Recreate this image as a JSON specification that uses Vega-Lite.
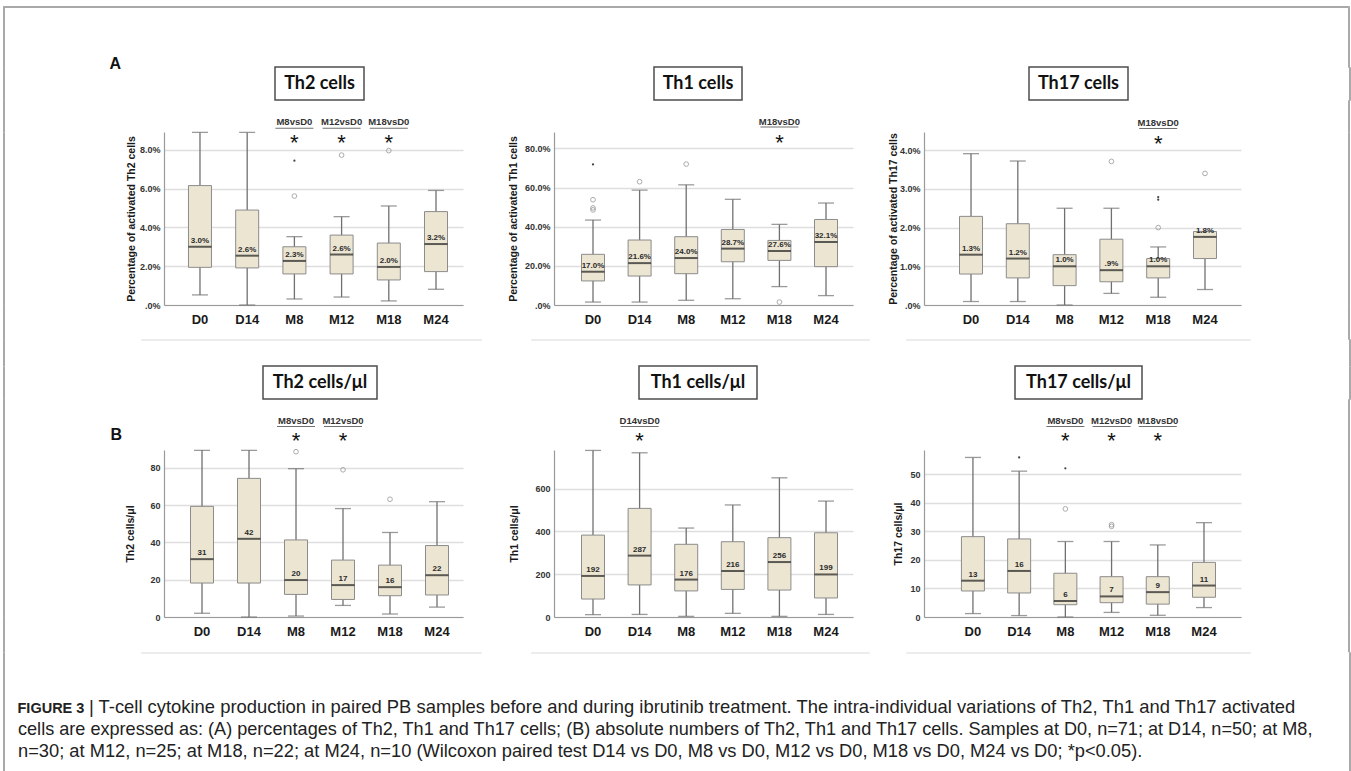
{
"$schema": "https://vega.github.io/schema/vega-lite/v6.json",
"background": "white",
"padding": {"left": 2, "top": 5, "right": 2, "bottom": 0},
"config": {
  "view": {"stroke": null},
  "font": "Liberation Sans",
  "axisX": {"labelAngle": 0, "labelFontSize": 13, "labelFontWeight": "bold", "labelColor": "#1a1a1a", "labelPadding": 8, "ticks": false, "domainColor": "#9a9a9a", "domainWidth": 1.2, "grid": false},
  "axisY": {"titleFontSize": 10.5, "titleFontWeight": "bold", "titleColor": "#1a1a1a", "labelFontSize": 9, "labelFontWeight": "bold", "labelColor": "#333333", "labelPadding": 4, "ticks": false, "grid": true, "gridColor": "#dedede", "gridWidth": 1.5, "domainColor": "#9a9a9a", "domainWidth": 1.2, "labelOverlap": false}
},
"datasets": {
  "titles": [
    {"p": "A1", "t": "Th2 cells"}, {"p": "A2", "t": "Th1 cells"}, {"p": "A3", "t": "Th17 cells"},
    {"p": "B1", "t": "Th2 cells/μl"}, {"p": "B2", "t": "Th1 cells/μl"}, {"p": "B3", "t": "Th17 cells/μl"}
  ],
  "boxes": [
    {"p": "A1", "c": "D0", "lo": 0.52, "q1": 1.94, "md": 3.0, "q3": 6.15, "hi": 8.89, "lab": "3.0%"},
    {"p": "A1", "c": "D14", "lo": 0.0, "q1": 1.91, "md": 2.54, "q3": 4.89, "hi": 8.89, "lab": "2.6%"},
    {"p": "A1", "c": "M8", "lo": 0.31, "q1": 1.6, "md": 2.27, "q3": 3.0, "hi": 3.52, "lab": "2.3%"},
    {"p": "A1", "c": "M12", "lo": 0.41, "q1": 1.6, "md": 2.6, "q3": 3.6, "hi": 4.55, "lab": "2.6%"},
    {"p": "A1", "c": "M18", "lo": 0.21, "q1": 1.29, "md": 1.96, "q3": 3.19, "hi": 5.1, "lab": "2.0%"},
    {"p": "A1", "c": "M24", "lo": 0.81, "q1": 1.72, "md": 3.14, "q3": 4.81, "hi": 5.9, "lab": "3.2%"},
    {"p": "A2", "c": "D0", "lo": 1.5, "q1": 12.3, "md": 17.0, "q3": 25.9, "hi": 43.4, "lab": "17.0%"},
    {"p": "A2", "c": "D14", "lo": 1.5, "q1": 14.8, "md": 21.4, "q3": 33.2, "hi": 58.7, "lab": "21.6%"},
    {"p": "A2", "c": "M8", "lo": 2.4, "q1": 16.0, "md": 24.0, "q3": 34.9, "hi": 61.4, "lab": "24.0%"},
    {"p": "A2", "c": "M12", "lo": 3.2, "q1": 22.1, "md": 28.8, "q3": 38.6, "hi": 54.0, "lab": "28.7%"},
    {"p": "A2", "c": "M18", "lo": 9.4, "q1": 22.8, "md": 27.6, "q3": 33.0, "hi": 41.2, "lab": "27.6%"},
    {"p": "A2", "c": "M24", "lo": 4.8, "q1": 19.6, "md": 32.2, "q3": 43.7, "hi": 52.1, "lab": "32.1%"},
    {"p": "A3", "c": "D0", "lo": 0.09, "q1": 0.8, "md": 1.3, "q3": 2.29, "hi": 3.91, "lab": "1.3%"},
    {"p": "A3", "c": "D14", "lo": 0.09, "q1": 0.7, "md": 1.2, "q3": 2.1, "hi": 3.72, "lab": "1.2%"},
    {"p": "A3", "c": "M8", "lo": 0.0, "q1": 0.5, "md": 1.0, "q3": 1.3, "hi": 2.5, "lab": "1.0%"},
    {"p": "A3", "c": "M12", "lo": 0.3, "q1": 0.6, "md": 0.9, "q3": 1.7, "hi": 2.5, "lab": ".9%"},
    {"p": "A3", "c": "M18", "lo": 0.2, "q1": 0.7, "md": 1.0, "q3": 1.2, "hi": 1.5, "lab": "1.0%"},
    {"p": "A3", "c": "M24", "lo": 0.4, "q1": 1.2, "md": 1.76, "q3": 1.9, "hi": 1.9, "lab": "1.8%"},
    {"p": "B1", "c": "D0", "lo": 2.0, "q1": 18.2, "md": 31.0, "q3": 59.3, "hi": 89.3, "lab": "31"},
    {"p": "B1", "c": "D14", "lo": 0.0, "q1": 18.2, "md": 41.9, "q3": 74.3, "hi": 89.3, "lab": "42"},
    {"p": "B1", "c": "M8", "lo": 0.5, "q1": 12.1, "md": 19.8, "q3": 41.3, "hi": 79.5, "lab": "20"},
    {"p": "B1", "c": "M12", "lo": 6.2, "q1": 9.4, "md": 17.1, "q3": 30.5, "hi": 58.1, "lab": "17"},
    {"p": "B1", "c": "M18", "lo": 1.6, "q1": 11.4, "md": 16.0, "q3": 27.8, "hi": 45.3, "lab": "16"},
    {"p": "B1", "c": "M24", "lo": 5.3, "q1": 11.8, "md": 22.4, "q3": 38.3, "hi": 61.8, "lab": "22"},
    {"p": "B2", "c": "D0", "lo": 11, "q1": 84, "md": 192, "q3": 383, "hi": 779, "lab": "192"},
    {"p": "B2", "c": "D14", "lo": 12, "q1": 150, "md": 287, "q3": 508, "hi": 768, "lab": "287"},
    {"p": "B2", "c": "M8", "lo": 3, "q1": 122, "md": 175, "q3": 340, "hi": 416, "lab": "176"},
    {"p": "B2", "c": "M12", "lo": 17, "q1": 129, "md": 215, "q3": 352, "hi": 524, "lab": "216"},
    {"p": "B2", "c": "M18", "lo": 3, "q1": 126, "md": 257, "q3": 371, "hi": 651, "lab": "256"},
    {"p": "B2", "c": "M24", "lo": 12, "q1": 89, "md": 199, "q3": 394, "hi": 542, "lab": "199"},
    {"p": "B3", "c": "D0", "lo": 1.2, "q1": 9.1, "md": 12.7, "q3": 28.1, "hi": 55.8, "lab": "13"},
    {"p": "B3", "c": "D14", "lo": 0.5, "q1": 8.4, "md": 16.1, "q3": 27.3, "hi": 51.0, "lab": "16"},
    {"p": "B3", "c": "M8", "lo": 0.0, "q1": 4.3, "md": 5.6, "q3": 15.3, "hi": 26.4, "lab": "6"},
    {"p": "B3", "c": "M12", "lo": 1.6, "q1": 5.0, "md": 7.2, "q3": 14.1, "hi": 26.4, "lab": "7"},
    {"p": "B3", "c": "M18", "lo": 0.6, "q1": 4.5, "md": 8.7, "q3": 14.1, "hi": 25.2, "lab": "9"},
    {"p": "B3", "c": "M24", "lo": 3.3, "q1": 6.9, "md": 11.0, "q3": 19.1, "hi": 33.0, "lab": "11"}
  ],
  "outl": [
    {"p": "A1", "c": "M8", "v": 5.61, "k": "o"}, {"p": "A1", "c": "M8", "v": 7.43, "k": "x"},
    {"p": "A1", "c": "M12", "v": 7.72, "k": "o"}, {"p": "A1", "c": "M18", "v": 7.95, "k": "o"},
    {"p": "A2", "c": "D0", "v": 48.6, "k": "o"}, {"p": "A2", "c": "D0", "v": 49.6, "k": "o"},
    {"p": "A2", "c": "D0", "v": 53.8, "k": "o"}, {"p": "A2", "c": "D0", "v": 71.8, "k": "x"},
    {"p": "A2", "c": "D14", "v": 63.0, "k": "o"}, {"p": "A2", "c": "M8", "v": 72.0, "k": "o"},
    {"p": "A2", "c": "M18", "v": 1.5, "k": "o"},
    {"p": "A3", "c": "M12", "v": 3.71, "k": "o"}, {"p": "A3", "c": "M18", "v": 2.0, "k": "o"},
    {"p": "A3", "c": "M18", "v": 2.72, "k": "x"}, {"p": "A3", "c": "M18", "v": 2.79, "k": "x"},
    {"p": "A3", "c": "M24", "v": 3.4, "k": "o"},
    {"p": "B1", "c": "M8", "v": 88.6, "k": "o"}, {"p": "B1", "c": "M12", "v": 78.9, "k": "o"},
    {"p": "B1", "c": "M18", "v": 63.1, "k": "o"},
    {"p": "B3", "c": "D14", "v": 55.8, "k": "x"}, {"p": "B3", "c": "M8", "v": 37.8, "k": "o"},
    {"p": "B3", "c": "M8", "v": 52.0, "k": "x"}, {"p": "B3", "c": "M12", "v": 31.7, "k": "o"},
    {"p": "B3", "c": "M12", "v": 32.3, "k": "o"}
  ],
  "ann": [
    {"p": "A1", "c": "M8", "t": "M8vsD0"}, {"p": "A1", "c": "M12", "t": "M12vsD0"}, {"p": "A1", "c": "M18", "t": "M18vsD0"},
    {"p": "A2", "c": "M18", "t": "M18vsD0"},
    {"p": "A3", "c": "M18", "t": "M18vsD0"},
    {"p": "B1", "c": "M8", "t": "M8vsD0"}, {"p": "B1", "c": "M12", "t": "M12vsD0"},
    {"p": "B2", "c": "D14", "t": "D14vsD0"},
    {"p": "B3", "c": "M8", "t": "M8vsD0"}, {"p": "B3", "c": "M12", "t": "M12vsD0"}, {"p": "B3", "c": "M18", "t": "M18vsD0"}
  ]
},
"bounds": "flush",
"spacing": 0,
"vconcat": [
  {"bounds": "flush", "spacing": 0, "hconcat": [
    {"width": 1345, "height": 1, "view": {"stroke": "#a9a9a9", "strokeWidth": 1}, "data": {"values": [{}]}, "mark": {"type": "text", "text": "", "fontSize": 0}},
    {"width": 1, "height": 1, "view": {"stroke": "#a9a9a9", "strokeWidth": 1}, "data": {"values": [{}]}, "mark": {"type": "text", "text": "", "fontSize": 0}}
  ]},
  {"width": 1, "height": 1, "view": {"stroke": "#a9a9a9", "strokeWidth": 1}, "data": {"values": [{}]}, "mark": {"type": "text", "text": "", "fontSize": 0}},

  {"bounds": "flush", "spacing": 0, "hconcat": [
    {"width": 1345, "height": 1, "data": {"values": [{}]}, "mark": {"type": "text", "text": "", "fontSize": 0}},
    {"width": 1, "height": 60, "view": {"stroke": "#a9a9a9", "strokeWidth": 1}, "data": {"values": [{}]}, "mark": {"type": "text", "text": "", "fontSize": 0}}
  ]},
  {"width": 1, "height": 60, "view": {"stroke": "#a9a9a9", "strokeWidth": 1}, "data": {"values": [{}]}, "mark": {"type": "text", "text": "", "fontSize": 0}},

  {"bounds": "flush", "spacing": 0, "hconcat": [
    {"width": 271.5, "height": 1, "data": {"values": [{}]}, "mark": {"type": "text", "text": "", "fontSize": 0}},
    {"width": 89, "height": 33, "view": {"stroke": "#4d4d4d", "strokeWidth": 1.5}, "data": {"name": "titles"}, "transform": [{"filter": "datum.p==='A1'"}], "mark": {"type": "text", "font": "Lato", "fontSize": 18, "fontWeight": "bold", "color": "#111111", "baseline": "middle"}, "encoding": {"text": {"field": "t"}}},
    {"width": 290, "height": 1, "data": {"values": [{}]}, "mark": {"type": "text", "text": "", "fontSize": 0}},
    {"width": 88, "height": 33, "view": {"stroke": "#4d4d4d", "strokeWidth": 1.5}, "data": {"name": "titles"}, "transform": [{"filter": "datum.p==='A2'"}], "mark": {"type": "text", "font": "Lato", "fontSize": 18, "fontWeight": "bold", "color": "#111111", "baseline": "middle"}, "encoding": {"text": {"field": "t"}}},
    {"width": 287, "height": 1, "data": {"values": [{}]}, "mark": {"type": "text", "text": "", "fontSize": 0}},
    {"width": 99, "height": 33, "view": {"stroke": "#4d4d4d", "strokeWidth": 1.5}, "data": {"name": "titles"}, "transform": [{"filter": "datum.p==='A3'"}], "mark": {"type": "text", "font": "Lato", "fontSize": 18, "fontWeight": "bold", "color": "#111111", "baseline": "middle"}, "encoding": {"text": {"field": "t"}}},
    {"width": 220.5, "height": 1, "data": {"values": [{}]}, "mark": {"type": "text", "text": "", "fontSize": 0}},
    {"width": 1, "height": 33, "view": {"stroke": "#a9a9a9", "strokeWidth": 1}, "data": {"values": [{}]}, "mark": {"type": "text", "text": "", "fontSize": 0}}
  ]},
  {"width": 1, "height": 33, "view": {"stroke": "#a9a9a9", "strokeWidth": 1}, "data": {"values": [{}]}, "mark": {"type": "text", "text": "", "fontSize": 0},
   "title": {"text": "A", "orient": "bottom", "anchor": "start", "frame": "group", "fontSize": 16, "fontWeight": "bold", "color": "#111111", "baseline": "alphabetic", "offset": 0, "dx": 106.5, "dy": -31.5}},

  {"bounds": "flush", "spacing": 0, "hconcat": [
    {"width": 1345, "height": 1, "data": {"values": [{}]}, "mark": {"type": "text", "text": "", "fontSize": 0}},
    {"width": 1, "height": 31.5, "view": {"stroke": "#a9a9a9", "strokeWidth": 1}, "data": {"values": [{}]}, "mark": {"type": "text", "text": "", "fontSize": 0}}
  ]},
  {"width": 1, "height": 31.5, "view": {"stroke": "#a9a9a9", "strokeWidth": 1}, "data": {"values": [{}]}, "mark": {"type": "text", "text": "", "fontSize": 0}},

  {"bounds": "flush", "spacing": 0, "hconcat": [
    {"width": 161, "height": 1, "data": {"values": [{}]}, "mark": {"type": "text", "text": "", "fontSize": 0}},
    {"width": 299, "height": 173,
     "encoding": {"x": {"field": "c", "type": "nominal", "sort": ["D0", "D14", "M8", "M12", "M18", "M24"], "scale": {"type": "band", "paddingInner": 0, "paddingOuter": 0.167, "align": 0.785}, "axis": {"title": null}}},
     "layer": [
      {"data": {"name": "boxes"}, "transform": [{"filter": "datum.p==='A1'"}], "mark": {"type": "rule", "color": "#707070", "strokeWidth": 1.3}, "encoding": {"y": {"field": "lo", "type": "quantitative", "scale": {"domain": [0, 8.91], "nice": false, "zero": false}, "axis": {"title": "Percentage of activated Th2 cells", "values": [0, 2, 4, 6, 8], "labelExpr": "datum.value===0?'.0%':format(datum.value,'.1f')+'%'", "titlePadding": 3}}, "y2": {"field": "hi"}}},
      {"data": {"name": "boxes"}, "transform": [{"filter": "datum.p==='A1'"}], "mark": {"type": "tick", "size": 16, "thickness": 1.3, "color": "#707070"}, "encoding": {"y": {"field": "lo", "type": "quantitative", "scale": {"domain": [0, 8.91], "nice": false, "zero": false}, "axis": {"title": "Percentage of activated Th2 cells", "values": [0, 2, 4, 6, 8], "labelExpr": "datum.value===0?'.0%':format(datum.value,'.1f')+'%'", "titlePadding": 3}}}},
      {"data": {"name": "boxes"}, "transform": [{"filter": "datum.p==='A1'"}], "mark": {"type": "tick", "size": 16, "thickness": 1.3, "color": "#707070"}, "encoding": {"y": {"field": "hi", "type": "quantitative", "scale": {"domain": [0, 8.91], "nice": false, "zero": false}, "axis": {"title": "Percentage of activated Th2 cells", "values": [0, 2, 4, 6, 8], "labelExpr": "datum.value===0?'.0%':format(datum.value,'.1f')+'%'", "titlePadding": 3}}}},
      {"data": {"name": "boxes"}, "transform": [{"filter": "datum.p==='A1'"}], "mark": {"type": "bar", "width": 23, "fill": "#ece5d2", "stroke": "#8c8c8c", "strokeWidth": 1}, "encoding": {"y": {"field": "q1", "type": "quantitative", "scale": {"domain": [0, 8.91], "nice": false, "zero": false}, "axis": {"title": "Percentage of activated Th2 cells", "values": [0, 2, 4, 6, 8], "labelExpr": "datum.value===0?'.0%':format(datum.value,'.1f')+'%'", "titlePadding": 3}}, "y2": {"field": "q3"}}},
      {"data": {"name": "boxes"}, "transform": [{"filter": "datum.p==='A1'"}], "mark": {"type": "tick", "size": 23, "thickness": 2, "color": "#1e1e1e"}, "encoding": {"y": {"field": "md", "type": "quantitative", "scale": {"domain": [0, 8.91], "nice": false, "zero": false}, "axis": {"title": "Percentage of activated Th2 cells", "values": [0, 2, 4, 6, 8], "labelExpr": "datum.value===0?'.0%':format(datum.value,'.1f')+'%'", "titlePadding": 3}}}},
      {"data": {"name": "boxes"}, "transform": [{"filter": "datum.p==='A1'"}], "mark": {"type": "text", "dy": -6, "fontSize": 8, "fontWeight": "bold", "color": "#2a2a2a"}, "encoding": {"y": {"field": "md", "type": "quantitative", "scale": {"domain": [0, 8.91], "nice": false, "zero": false}, "axis": {"title": "Percentage of activated Th2 cells", "values": [0, 2, 4, 6, 8], "labelExpr": "datum.value===0?'.0%':format(datum.value,'.1f')+'%'", "titlePadding": 3}}, "text": {"field": "lab"}}},
      {"data": {"name": "outl"}, "transform": [{"filter": "datum.p==='A1' && datum.k==='o'"}], "mark": {"type": "point", "shape": "circle", "filled": false, "size": 22, "color": "#8a8a8a", "strokeWidth": 1}, "encoding": {"y": {"field": "v", "type": "quantitative", "scale": {"domain": [0, 8.91], "nice": false, "zero": false}, "axis": {"title": "Percentage of activated Th2 cells", "values": [0, 2, 4, 6, 8], "labelExpr": "datum.value===0?'.0%':format(datum.value,'.1f')+'%'", "titlePadding": 3}}}},
      {"data": {"name": "outl"}, "transform": [{"filter": "datum.p==='A1' && datum.k==='x'"}], "mark": {"type": "point", "shape": "circle", "filled": true, "size": 5, "color": "#444444", "opacity": 1}, "encoding": {"y": {"field": "v", "type": "quantitative", "scale": {"domain": [0, 8.91], "nice": false, "zero": false}, "axis": {"title": "Percentage of activated Th2 cells", "values": [0, 2, 4, 6, 8], "labelExpr": "datum.value===0?'.0%':format(datum.value,'.1f')+'%'", "titlePadding": 3}}}},
      {"data": {"name": "ann"}, "transform": [{"filter": "datum.p==='A1'"}], "mark": {"type": "text", "fontSize": 9.5, "fontWeight": "bold", "color": "#333333", "baseline": "middle"}, "encoding": {"y": {"datum": 9.4, "scale": {"domain": [0, 8.91], "nice": false, "zero": false}, "axis": {"title": "Percentage of activated Th2 cells", "values": [0, 2, 4, 6, 8], "labelExpr": "datum.value===0?'.0%':format(datum.value,'.1f')+'%'", "titlePadding": 3}}, "text": {"field": "t"}}},
      {"data": {"name": "ann"}, "transform": [{"filter": "datum.p==='A1'"}], "mark": {"type": "tick", "size": 38, "thickness": 1, "color": "#333333"}, "encoding": {"y": {"datum": 9.1, "scale": {"domain": [0, 8.91], "nice": false, "zero": false}, "axis": {"title": "Percentage of activated Th2 cells", "values": [0, 2, 4, 6, 8], "labelExpr": "datum.value===0?'.0%':format(datum.value,'.1f')+'%'", "titlePadding": 3}}}},
      {"data": {"name": "ann"}, "transform": [{"filter": "datum.p==='A1'"}], "mark": {"type": "text", "text": "*", "fontSize": 22, "color": "#111111", "baseline": "middle", "dy": 1}, "encoding": {"y": {"datum": 8.4, "scale": {"domain": [0, 8.91], "nice": false, "zero": false}, "axis": {"title": "Percentage of activated Th2 cells", "values": [0, 2, 4, 6, 8], "labelExpr": "datum.value===0?'.0%':format(datum.value,'.1f')+'%'", "titlePadding": 3}}}}
     ]},
    {"width": 91, "height": 1, "data": {"values": [{}]}, "mark": {"type": "text", "text": "", "fontSize": 0}},
    {"width": 299, "height": 173,
     "encoding": {"x": {"field": "c", "type": "nominal", "sort": ["D0", "D14", "M8", "M12", "M18", "M24"], "scale": {"type": "band", "paddingInner": 0, "paddingOuter": 0.208, "align": 0.81}, "axis": {"title": null}}},
     "layer": [
      {"data": {"name": "boxes"}, "transform": [{"filter": "datum.p==='A2'"}], "mark": {"type": "rule", "color": "#707070", "strokeWidth": 1.3}, "encoding": {"y": {"field": "lo", "type": "quantitative", "scale": {"domain": [0, 88.4], "nice": false, "zero": false}, "axis": {"title": "Percentage of activated Th1 cells", "values": [0, 20, 40, 60, 80], "labelExpr": "datum.value===0?'.0%':format(datum.value,'.1f')+'%'", "titlePadding": 6}}, "y2": {"field": "hi"}}},
      {"data": {"name": "boxes"}, "transform": [{"filter": "datum.p==='A2'"}], "mark": {"type": "tick", "size": 16, "thickness": 1.3, "color": "#707070"}, "encoding": {"y": {"field": "lo", "type": "quantitative", "scale": {"domain": [0, 88.4], "nice": false, "zero": false}, "axis": {"title": "Percentage of activated Th1 cells", "values": [0, 20, 40, 60, 80], "labelExpr": "datum.value===0?'.0%':format(datum.value,'.1f')+'%'", "titlePadding": 6}}}},
      {"data": {"name": "boxes"}, "transform": [{"filter": "datum.p==='A2'"}], "mark": {"type": "tick", "size": 16, "thickness": 1.3, "color": "#707070"}, "encoding": {"y": {"field": "hi", "type": "quantitative", "scale": {"domain": [0, 88.4], "nice": false, "zero": false}, "axis": {"title": "Percentage of activated Th1 cells", "values": [0, 20, 40, 60, 80], "labelExpr": "datum.value===0?'.0%':format(datum.value,'.1f')+'%'", "titlePadding": 6}}}},
      {"data": {"name": "boxes"}, "transform": [{"filter": "datum.p==='A2'"}], "mark": {"type": "bar", "width": 23, "fill": "#ece5d2", "stroke": "#8c8c8c", "strokeWidth": 1}, "encoding": {"y": {"field": "q1", "type": "quantitative", "scale": {"domain": [0, 88.4], "nice": false, "zero": false}, "axis": {"title": "Percentage of activated Th1 cells", "values": [0, 20, 40, 60, 80], "labelExpr": "datum.value===0?'.0%':format(datum.value,'.1f')+'%'", "titlePadding": 6}}, "y2": {"field": "q3"}}},
      {"data": {"name": "boxes"}, "transform": [{"filter": "datum.p==='A2'"}], "mark": {"type": "tick", "size": 23, "thickness": 2, "color": "#1e1e1e"}, "encoding": {"y": {"field": "md", "type": "quantitative", "scale": {"domain": [0, 88.4], "nice": false, "zero": false}, "axis": {"title": "Percentage of activated Th1 cells", "values": [0, 20, 40, 60, 80], "labelExpr": "datum.value===0?'.0%':format(datum.value,'.1f')+'%'", "titlePadding": 6}}}},
      {"data": {"name": "boxes"}, "transform": [{"filter": "datum.p==='A2'"}], "mark": {"type": "text", "dy": -6, "fontSize": 8, "fontWeight": "bold", "color": "#2a2a2a"}, "encoding": {"y": {"field": "md", "type": "quantitative", "scale": {"domain": [0, 88.4], "nice": false, "zero": false}, "axis": {"title": "Percentage of activated Th1 cells", "values": [0, 20, 40, 60, 80], "labelExpr": "datum.value===0?'.0%':format(datum.value,'.1f')+'%'", "titlePadding": 6}}, "text": {"field": "lab"}}},
      {"data": {"name": "outl"}, "transform": [{"filter": "datum.p==='A2' && datum.k==='o'"}], "mark": {"type": "point", "shape": "circle", "filled": false, "size": 22, "color": "#8a8a8a", "strokeWidth": 1}, "encoding": {"y": {"field": "v", "type": "quantitative", "scale": {"domain": [0, 88.4], "nice": false, "zero": false}, "axis": {"title": "Percentage of activated Th1 cells", "values": [0, 20, 40, 60, 80], "labelExpr": "datum.value===0?'.0%':format(datum.value,'.1f')+'%'", "titlePadding": 6}}}},
      {"data": {"name": "outl"}, "transform": [{"filter": "datum.p==='A2' && datum.k==='x'"}], "mark": {"type": "point", "shape": "circle", "filled": true, "size": 5, "color": "#444444", "opacity": 1}, "encoding": {"y": {"field": "v", "type": "quantitative", "scale": {"domain": [0, 88.4], "nice": false, "zero": false}, "axis": {"title": "Percentage of activated Th1 cells", "values": [0, 20, 40, 60, 80], "labelExpr": "datum.value===0?'.0%':format(datum.value,'.1f')+'%'", "titlePadding": 6}}}},
      {"data": {"name": "ann"}, "transform": [{"filter": "datum.p==='A2'"}], "mark": {"type": "text", "fontSize": 9.5, "fontWeight": "bold", "color": "#333333", "baseline": "middle"}, "encoding": {"y": {"datum": 93.7, "scale": {"domain": [0, 88.4], "nice": false, "zero": false}, "axis": {"title": "Percentage of activated Th1 cells", "values": [0, 20, 40, 60, 80], "labelExpr": "datum.value===0?'.0%':format(datum.value,'.1f')+'%'", "titlePadding": 6}}, "text": {"field": "t"}}},
      {"data": {"name": "ann"}, "transform": [{"filter": "datum.p==='A2'"}], "mark": {"type": "tick", "size": 38, "thickness": 1, "color": "#333333"}, "encoding": {"y": {"datum": 90.9, "scale": {"domain": [0, 88.4], "nice": false, "zero": false}, "axis": {"title": "Percentage of activated Th1 cells", "values": [0, 20, 40, 60, 80], "labelExpr": "datum.value===0?'.0%':format(datum.value,'.1f')+'%'", "titlePadding": 6}}}},
      {"data": {"name": "ann"}, "transform": [{"filter": "datum.p==='A2'"}], "mark": {"type": "text", "text": "*", "fontSize": 22, "color": "#111111", "baseline": "middle", "dy": 1}, "encoding": {"y": {"datum": 83.4, "scale": {"domain": [0, 88.4], "nice": false, "zero": false}, "axis": {"title": "Percentage of activated Th1 cells", "values": [0, 20, 40, 60, 80], "labelExpr": "datum.value===0?'.0%':format(datum.value,'.1f')+'%'", "titlePadding": 6}}}}
     ]},
    {"width": 71, "height": 1, "data": {"values": [{}]}, "mark": {"type": "text", "text": "", "fontSize": 0}},
    {"width": 317, "height": 173,
     "encoding": {"x": {"field": "c", "type": "nominal", "sort": ["D0", "D14", "M8", "M12", "M18", "M24"], "scale": {"type": "band", "paddingInner": 0, "paddingOuter": 0.387, "align": 0.652}, "axis": {"title": null}}},
     "layer": [
      {"data": {"name": "boxes"}, "transform": [{"filter": "datum.p==='A3'"}], "mark": {"type": "rule", "color": "#707070", "strokeWidth": 1.3}, "encoding": {"y": {"field": "lo", "type": "quantitative", "scale": {"domain": [0, 4.47], "nice": false, "zero": false}, "axis": {"title": "Percentage of activated Th17 cells", "values": [0, 1, 2, 3, 4], "labelExpr": "datum.value===0?'.0%':format(datum.value,'.1f')+'%'", "titlePadding": 1}}, "y2": {"field": "hi"}}},
      {"data": {"name": "boxes"}, "transform": [{"filter": "datum.p==='A3'"}], "mark": {"type": "tick", "size": 16, "thickness": 1.3, "color": "#707070"}, "encoding": {"y": {"field": "lo", "type": "quantitative", "scale": {"domain": [0, 4.47], "nice": false, "zero": false}, "axis": {"title": "Percentage of activated Th17 cells", "values": [0, 1, 2, 3, 4], "labelExpr": "datum.value===0?'.0%':format(datum.value,'.1f')+'%'", "titlePadding": 1}}}},
      {"data": {"name": "boxes"}, "transform": [{"filter": "datum.p==='A3'"}], "mark": {"type": "tick", "size": 16, "thickness": 1.3, "color": "#707070"}, "encoding": {"y": {"field": "hi", "type": "quantitative", "scale": {"domain": [0, 4.47], "nice": false, "zero": false}, "axis": {"title": "Percentage of activated Th17 cells", "values": [0, 1, 2, 3, 4], "labelExpr": "datum.value===0?'.0%':format(datum.value,'.1f')+'%'", "titlePadding": 1}}}},
      {"data": {"name": "boxes"}, "transform": [{"filter": "datum.p==='A3'"}], "mark": {"type": "bar", "width": 23, "fill": "#ece5d2", "stroke": "#8c8c8c", "strokeWidth": 1}, "encoding": {"y": {"field": "q1", "type": "quantitative", "scale": {"domain": [0, 4.47], "nice": false, "zero": false}, "axis": {"title": "Percentage of activated Th17 cells", "values": [0, 1, 2, 3, 4], "labelExpr": "datum.value===0?'.0%':format(datum.value,'.1f')+'%'", "titlePadding": 1}}, "y2": {"field": "q3"}}},
      {"data": {"name": "boxes"}, "transform": [{"filter": "datum.p==='A3'"}], "mark": {"type": "tick", "size": 23, "thickness": 2, "color": "#1e1e1e"}, "encoding": {"y": {"field": "md", "type": "quantitative", "scale": {"domain": [0, 4.47], "nice": false, "zero": false}, "axis": {"title": "Percentage of activated Th17 cells", "values": [0, 1, 2, 3, 4], "labelExpr": "datum.value===0?'.0%':format(datum.value,'.1f')+'%'", "titlePadding": 1}}}},
      {"data": {"name": "boxes"}, "transform": [{"filter": "datum.p==='A3'"}], "mark": {"type": "text", "dy": -6, "fontSize": 8, "fontWeight": "bold", "color": "#2a2a2a"}, "encoding": {"y": {"field": "md", "type": "quantitative", "scale": {"domain": [0, 4.47], "nice": false, "zero": false}, "axis": {"title": "Percentage of activated Th17 cells", "values": [0, 1, 2, 3, 4], "labelExpr": "datum.value===0?'.0%':format(datum.value,'.1f')+'%'", "titlePadding": 1}}, "text": {"field": "lab"}}},
      {"data": {"name": "outl"}, "transform": [{"filter": "datum.p==='A3' && datum.k==='o'"}], "mark": {"type": "point", "shape": "circle", "filled": false, "size": 22, "color": "#8a8a8a", "strokeWidth": 1}, "encoding": {"y": {"field": "v", "type": "quantitative", "scale": {"domain": [0, 4.47], "nice": false, "zero": false}, "axis": {"title": "Percentage of activated Th17 cells", "values": [0, 1, 2, 3, 4], "labelExpr": "datum.value===0?'.0%':format(datum.value,'.1f')+'%'", "titlePadding": 1}}}},
      {"data": {"name": "outl"}, "transform": [{"filter": "datum.p==='A3' && datum.k==='x'"}], "mark": {"type": "point", "shape": "circle", "filled": true, "size": 5, "color": "#444444", "opacity": 1}, "encoding": {"y": {"field": "v", "type": "quantitative", "scale": {"domain": [0, 4.47], "nice": false, "zero": false}, "axis": {"title": "Percentage of activated Th17 cells", "values": [0, 1, 2, 3, 4], "labelExpr": "datum.value===0?'.0%':format(datum.value,'.1f')+'%'", "titlePadding": 1}}}},
      {"data": {"name": "ann"}, "transform": [{"filter": "datum.p==='A3'"}], "mark": {"type": "text", "fontSize": 9.5, "fontWeight": "bold", "color": "#333333", "baseline": "middle"}, "encoding": {"y": {"datum": 4.7, "scale": {"domain": [0, 4.47], "nice": false, "zero": false}, "axis": {"title": "Percentage of activated Th17 cells", "values": [0, 1, 2, 3, 4], "labelExpr": "datum.value===0?'.0%':format(datum.value,'.1f')+'%'", "titlePadding": 1}}, "text": {"field": "t"}}},
      {"data": {"name": "ann"}, "transform": [{"filter": "datum.p==='A3'"}], "mark": {"type": "tick", "size": 38, "thickness": 1, "color": "#333333"}, "encoding": {"y": {"datum": 4.56, "scale": {"domain": [0, 4.47], "nice": false, "zero": false}, "axis": {"title": "Percentage of activated Th17 cells", "values": [0, 1, 2, 3, 4], "labelExpr": "datum.value===0?'.0%':format(datum.value,'.1f')+'%'", "titlePadding": 1}}}},
      {"data": {"name": "ann"}, "transform": [{"filter": "datum.p==='A3'"}], "mark": {"type": "text", "text": "*", "fontSize": 22, "color": "#111111", "baseline": "middle", "dy": 1}, "encoding": {"y": {"datum": 4.19, "scale": {"domain": [0, 4.47], "nice": false, "zero": false}, "axis": {"title": "Percentage of activated Th17 cells", "values": [0, 1, 2, 3, 4], "labelExpr": "datum.value===0?'.0%':format(datum.value,'.1f')+'%'", "titlePadding": 1}}}}
     ]},
    {"width": 107, "height": 1, "data": {"values": [{}]}, "mark": {"type": "text", "text": "", "fontSize": 0}},
    {"width": 1, "height": 173, "view": {"stroke": "#a9a9a9", "strokeWidth": 1}, "data": {"values": [{}]}, "mark": {"type": "text", "text": "", "fontSize": 0}}
  ]},
  {"width": 1, "height": 173, "view": {"stroke": "#a9a9a9", "strokeWidth": 1}, "data": {"values": [{}]}, "mark": {"type": "text", "text": "", "fontSize": 0}},

  {"bounds": "flush", "spacing": 0, "hconcat": [
    {"width": 1345, "height": 1, "data": {"values": [{}]}, "mark": {"type": "text", "text": "", "fontSize": 0}},
    {"width": 1, "height": 34, "view": {"stroke": "#a9a9a9", "strokeWidth": 1}, "data": {"values": [{}]}, "mark": {"type": "text", "text": "", "fontSize": 0}}
  ]},
  {"width": 1, "height": 34, "view": {"stroke": "#a9a9a9", "strokeWidth": 1}, "data": {"values": [{}]}, "mark": {"type": "text", "text": "", "fontSize": 0}},

  {"bounds": "flush", "spacing": 0, "hconcat": [
    {"width": 137.5, "height": 1, "data": {"values": [{}]}, "mark": {"type": "text", "text": "", "fontSize": 0}},
    {"width": 340, "height": 1, "view": {"stroke": "#ececec", "strokeWidth": 1}, "data": {"values": [{}]}, "mark": {"type": "text", "text": "", "fontSize": 0}},
    {"width": 50, "height": 1, "data": {"values": [{}]}, "mark": {"type": "text", "text": "", "fontSize": 0}},
    {"width": 338, "height": 1, "view": {"stroke": "#ececec", "strokeWidth": 1}, "data": {"values": [{}]}, "mark": {"type": "text", "text": "", "fontSize": 0}},
    {"width": 37, "height": 1, "data": {"values": [{}]}, "mark": {"type": "text", "text": "", "fontSize": 0}},
    {"width": 344, "height": 1, "view": {"stroke": "#ececec", "strokeWidth": 1}, "data": {"values": [{}]}, "mark": {"type": "text", "text": "", "fontSize": 0}},
    {"width": 98.5, "height": 1, "data": {"values": [{}]}, "mark": {"type": "text", "text": "", "fontSize": 0}},
    {"width": 1, "height": 26.5, "view": {"stroke": "#a9a9a9", "strokeWidth": 1}, "data": {"values": [{}]}, "mark": {"type": "text", "text": "", "fontSize": 0}}
  ]},
  {"width": 1, "height": 26.5, "view": {"stroke": "#a9a9a9", "strokeWidth": 1}, "data": {"values": [{}]}, "mark": {"type": "text", "text": "", "fontSize": 0}},

  {"bounds": "flush", "spacing": 0, "hconcat": [
    {"width": 259.5, "height": 1, "data": {"values": [{}]}, "mark": {"type": "text", "text": "", "fontSize": 0}},
    {"width": 114, "height": 33, "view": {"stroke": "#4d4d4d", "strokeWidth": 1.5}, "data": {"name": "titles"}, "transform": [{"filter": "datum.p==='B1'"}], "mark": {"type": "text", "font": "Lato", "fontSize": 18, "fontWeight": "bold", "color": "#111111", "baseline": "middle"}, "encoding": {"text": {"field": "t"}}},
    {"width": 262, "height": 1, "data": {"values": [{}]}, "mark": {"type": "text", "text": "", "fontSize": 0}},
    {"width": 118, "height": 33, "view": {"stroke": "#4d4d4d", "strokeWidth": 1.5}, "data": {"name": "titles"}, "transform": [{"filter": "datum.p==='B2'"}], "mark": {"type": "text", "font": "Lato", "fontSize": 18, "fontWeight": "bold", "color": "#111111", "baseline": "middle"}, "encoding": {"text": {"field": "t"}}},
    {"width": 258, "height": 1, "data": {"values": [{}]}, "mark": {"type": "text", "text": "", "fontSize": 0}},
    {"width": 127, "height": 33, "view": {"stroke": "#4d4d4d", "strokeWidth": 1.5}, "data": {"name": "titles"}, "transform": [{"filter": "datum.p==='B3'"}], "mark": {"type": "text", "font": "Lato", "fontSize": 18, "fontWeight": "bold", "color": "#111111", "baseline": "middle"}, "encoding": {"text": {"field": "t"}}},
    {"width": 206.5, "height": 1, "data": {"values": [{}]}, "mark": {"type": "text", "text": "", "fontSize": 0}},
    {"width": 1, "height": 33, "view": {"stroke": "#a9a9a9", "strokeWidth": 1}, "data": {"values": [{}]}, "mark": {"type": "text", "text": "", "fontSize": 0}}
  ]},
  {"width": 1, "height": 33, "view": {"stroke": "#a9a9a9", "strokeWidth": 1}, "data": {"values": [{}]}, "mark": {"type": "text", "text": "", "fontSize": 0}},

  {"bounds": "flush", "spacing": 0, "hconcat": [
    {"width": 1345, "height": 1, "data": {"values": [{}]}, "mark": {"type": "text", "text": "", "fontSize": 0}},
    {"width": 1, "height": 51, "view": {"stroke": "#a9a9a9", "strokeWidth": 1}, "data": {"values": [{}]}, "mark": {"type": "text", "text": "", "fontSize": 0}}
  ]},
  {"width": 1, "height": 51, "view": {"stroke": "#a9a9a9", "strokeWidth": 1}, "data": {"values": [{}]}, "mark": {"type": "text", "text": "", "fontSize": 0},
   "title": {"text": "B", "orient": "bottom", "anchor": "start", "frame": "group", "fontSize": 16, "fontWeight": "bold", "color": "#111111", "baseline": "alphabetic", "offset": 0, "dx": 107.5, "dy": -10.5}},

  {"bounds": "flush", "spacing": 0, "hconcat": [
    {"width": 161, "height": 1, "data": {"values": [{}]}, "mark": {"type": "text", "text": "", "fontSize": 0}},
    {"width": 299, "height": 167,
     "encoding": {"x": {"field": "c", "type": "nominal", "sort": ["D0", "D14", "M8", "M12", "M18", "M24"], "scale": {"type": "band", "paddingInner": 0, "paddingOuter": 0.181, "align": 0.853}, "axis": {"title": null}}},
     "layer": [
      {"data": {"name": "boxes"}, "transform": [{"filter": "datum.p==='B1'"}], "mark": {"type": "rule", "color": "#707070", "strokeWidth": 1.3}, "encoding": {"y": {"field": "lo", "type": "quantitative", "scale": {"domain": [0, 89.5], "nice": false, "zero": false}, "axis": {"title": "Th2 cells/μl", "values": [0, 20, 40, 60, 80], "titlePadding": 14}}, "y2": {"field": "hi"}}},
      {"data": {"name": "boxes"}, "transform": [{"filter": "datum.p==='B1'"}], "mark": {"type": "tick", "size": 16, "thickness": 1.3, "color": "#707070"}, "encoding": {"y": {"field": "lo", "type": "quantitative", "scale": {"domain": [0, 89.5], "nice": false, "zero": false}, "axis": {"title": "Th2 cells/μl", "values": [0, 20, 40, 60, 80], "titlePadding": 14}}}},
      {"data": {"name": "boxes"}, "transform": [{"filter": "datum.p==='B1'"}], "mark": {"type": "tick", "size": 16, "thickness": 1.3, "color": "#707070"}, "encoding": {"y": {"field": "hi", "type": "quantitative", "scale": {"domain": [0, 89.5], "nice": false, "zero": false}, "axis": {"title": "Th2 cells/μl", "values": [0, 20, 40, 60, 80], "titlePadding": 14}}}},
      {"data": {"name": "boxes"}, "transform": [{"filter": "datum.p==='B1'"}], "mark": {"type": "bar", "width": 23, "fill": "#ece5d2", "stroke": "#8c8c8c", "strokeWidth": 1}, "encoding": {"y": {"field": "q1", "type": "quantitative", "scale": {"domain": [0, 89.5], "nice": false, "zero": false}, "axis": {"title": "Th2 cells/μl", "values": [0, 20, 40, 60, 80], "titlePadding": 14}}, "y2": {"field": "q3"}}},
      {"data": {"name": "boxes"}, "transform": [{"filter": "datum.p==='B1'"}], "mark": {"type": "tick", "size": 23, "thickness": 2, "color": "#1e1e1e"}, "encoding": {"y": {"field": "md", "type": "quantitative", "scale": {"domain": [0, 89.5], "nice": false, "zero": false}, "axis": {"title": "Th2 cells/μl", "values": [0, 20, 40, 60, 80], "titlePadding": 14}}}},
      {"data": {"name": "boxes"}, "transform": [{"filter": "datum.p==='B1'"}], "mark": {"type": "text", "dy": -6, "fontSize": 8, "fontWeight": "bold", "color": "#2a2a2a"}, "encoding": {"y": {"field": "md", "type": "quantitative", "scale": {"domain": [0, 89.5], "nice": false, "zero": false}, "axis": {"title": "Th2 cells/μl", "values": [0, 20, 40, 60, 80], "titlePadding": 14}}, "text": {"field": "lab"}}},
      {"data": {"name": "outl"}, "transform": [{"filter": "datum.p==='B1' && datum.k==='o'"}], "mark": {"type": "point", "shape": "circle", "filled": false, "size": 22, "color": "#8a8a8a", "strokeWidth": 1}, "encoding": {"y": {"field": "v", "type": "quantitative", "scale": {"domain": [0, 89.5], "nice": false, "zero": false}, "axis": {"title": "Th2 cells/μl", "values": [0, 20, 40, 60, 80], "titlePadding": 14}}}},
      {"data": {"name": "ann"}, "transform": [{"filter": "datum.p==='B1'"}], "mark": {"type": "text", "fontSize": 9.5, "fontWeight": "bold", "color": "#333333", "baseline": "middle"}, "encoding": {"y": {"datum": 105.1, "scale": {"domain": [0, 89.5], "nice": false, "zero": false}, "axis": {"title": "Th2 cells/μl", "values": [0, 20, 40, 60, 80], "titlePadding": 14}}, "text": {"field": "t"}}},
      {"data": {"name": "ann"}, "transform": [{"filter": "datum.p==='B1'"}], "mark": {"type": "tick", "size": 38, "thickness": 1, "color": "#333333"}, "encoding": {"y": {"datum": 102.1, "scale": {"domain": [0, 89.5], "nice": false, "zero": false}, "axis": {"title": "Th2 cells/μl", "values": [0, 20, 40, 60, 80], "titlePadding": 14}}}},
      {"data": {"name": "ann"}, "transform": [{"filter": "datum.p==='B1'"}], "mark": {"type": "text", "text": "*", "fontSize": 22, "color": "#111111", "baseline": "middle", "dy": 0}, "encoding": {"y": {"datum": 94.3, "scale": {"domain": [0, 89.5], "nice": false, "zero": false}, "axis": {"title": "Th2 cells/μl", "values": [0, 20, 40, 60, 80], "titlePadding": 14}}}}
     ]},
    {"width": 91, "height": 1, "data": {"values": [{}]}, "mark": {"type": "text", "text": "", "fontSize": 0}},
    {"width": 299, "height": 167,
     "encoding": {"x": {"field": "c", "type": "nominal", "sort": ["D0", "D14", "M8", "M12", "M18", "M24"], "scale": {"type": "band", "paddingInner": 0, "paddingOuter": 0.208, "align": 0.81}, "axis": {"title": null}}},
     "layer": [
      {"data": {"name": "boxes"}, "transform": [{"filter": "datum.p==='B2'"}], "mark": {"type": "rule", "color": "#707070", "strokeWidth": 1.3}, "encoding": {"y": {"field": "lo", "type": "quantitative", "scale": {"domain": [0, 781], "nice": false, "zero": false}, "axis": {"title": "Th1 cells/μl", "values": [0, 200, 400, 600], "titlePadding": 15}}, "y2": {"field": "hi"}}},
      {"data": {"name": "boxes"}, "transform": [{"filter": "datum.p==='B2'"}], "mark": {"type": "tick", "size": 16, "thickness": 1.3, "color": "#707070"}, "encoding": {"y": {"field": "lo", "type": "quantitative", "scale": {"domain": [0, 781], "nice": false, "zero": false}, "axis": {"title": "Th1 cells/μl", "values": [0, 200, 400, 600], "titlePadding": 15}}}},
      {"data": {"name": "boxes"}, "transform": [{"filter": "datum.p==='B2'"}], "mark": {"type": "tick", "size": 16, "thickness": 1.3, "color": "#707070"}, "encoding": {"y": {"field": "hi", "type": "quantitative", "scale": {"domain": [0, 781], "nice": false, "zero": false}, "axis": {"title": "Th1 cells/μl", "values": [0, 200, 400, 600], "titlePadding": 15}}}},
      {"data": {"name": "boxes"}, "transform": [{"filter": "datum.p==='B2'"}], "mark": {"type": "bar", "width": 23, "fill": "#ece5d2", "stroke": "#8c8c8c", "strokeWidth": 1}, "encoding": {"y": {"field": "q1", "type": "quantitative", "scale": {"domain": [0, 781], "nice": false, "zero": false}, "axis": {"title": "Th1 cells/μl", "values": [0, 200, 400, 600], "titlePadding": 15}}, "y2": {"field": "q3"}}},
      {"data": {"name": "boxes"}, "transform": [{"filter": "datum.p==='B2'"}], "mark": {"type": "tick", "size": 23, "thickness": 2, "color": "#1e1e1e"}, "encoding": {"y": {"field": "md", "type": "quantitative", "scale": {"domain": [0, 781], "nice": false, "zero": false}, "axis": {"title": "Th1 cells/μl", "values": [0, 200, 400, 600], "titlePadding": 15}}}},
      {"data": {"name": "boxes"}, "transform": [{"filter": "datum.p==='B2'"}], "mark": {"type": "text", "dy": -6, "fontSize": 8, "fontWeight": "bold", "color": "#2a2a2a"}, "encoding": {"y": {"field": "md", "type": "quantitative", "scale": {"domain": [0, 781], "nice": false, "zero": false}, "axis": {"title": "Th1 cells/μl", "values": [0, 200, 400, 600], "titlePadding": 15}}, "text": {"field": "lab"}}},
      {"data": {"name": "ann"}, "transform": [{"filter": "datum.p==='B2'"}], "mark": {"type": "text", "fontSize": 9.5, "fontWeight": "bold", "color": "#333333", "baseline": "middle"}, "encoding": {"y": {"datum": 916, "scale": {"domain": [0, 781], "nice": false, "zero": false}, "axis": {"title": "Th1 cells/μl", "values": [0, 200, 400, 600], "titlePadding": 15}}, "text": {"field": "t"}}},
      {"data": {"name": "ann"}, "transform": [{"filter": "datum.p==='B2'"}], "mark": {"type": "tick", "size": 38, "thickness": 1, "color": "#333333"}, "encoding": {"y": {"datum": 891, "scale": {"domain": [0, 781], "nice": false, "zero": false}, "axis": {"title": "Th1 cells/μl", "values": [0, 200, 400, 600], "titlePadding": 15}}}},
      {"data": {"name": "ann"}, "transform": [{"filter": "datum.p==='B2'"}], "mark": {"type": "text", "text": "*", "fontSize": 22, "color": "#111111", "baseline": "middle", "dy": 0}, "encoding": {"y": {"datum": 823, "scale": {"domain": [0, 781], "nice": false, "zero": false}, "axis": {"title": "Th1 cells/μl", "values": [0, 200, 400, 600], "titlePadding": 15}}}}
     ]},
    {"width": 71, "height": 1, "data": {"values": [{}]}, "mark": {"type": "text", "text": "", "fontSize": 0}},
    {"width": 317, "height": 167,
     "encoding": {"x": {"field": "c", "type": "nominal", "sort": ["D0", "D14", "M8", "M12", "M18", "M24"], "scale": {"type": "band", "paddingInner": 0, "paddingOuter": 0.43, "align": 0.65}, "axis": {"title": null}}},
     "layer": [
      {"data": {"name": "boxes"}, "transform": [{"filter": "datum.p==='B3'"}], "mark": {"type": "rule", "color": "#707070", "strokeWidth": 1.3}, "encoding": {"y": {"field": "lo", "type": "quantitative", "scale": {"domain": [0, 58.4], "nice": false, "zero": false}, "axis": {"title": "Th17 cells/μl", "values": [0, 10, 20, 30, 40, 50], "titlePadding": 6}}, "y2": {"field": "hi"}}},
      {"data": {"name": "boxes"}, "transform": [{"filter": "datum.p==='B3'"}], "mark": {"type": "tick", "size": 16, "thickness": 1.3, "color": "#707070"}, "encoding": {"y": {"field": "lo", "type": "quantitative", "scale": {"domain": [0, 58.4], "nice": false, "zero": false}, "axis": {"title": "Th17 cells/μl", "values": [0, 10, 20, 30, 40, 50], "titlePadding": 6}}}},
      {"data": {"name": "boxes"}, "transform": [{"filter": "datum.p==='B3'"}], "mark": {"type": "tick", "size": 16, "thickness": 1.3, "color": "#707070"}, "encoding": {"y": {"field": "hi", "type": "quantitative", "scale": {"domain": [0, 58.4], "nice": false, "zero": false}, "axis": {"title": "Th17 cells/μl", "values": [0, 10, 20, 30, 40, 50], "titlePadding": 6}}}},
      {"data": {"name": "boxes"}, "transform": [{"filter": "datum.p==='B3'"}], "mark": {"type": "bar", "width": 23, "fill": "#ece5d2", "stroke": "#8c8c8c", "strokeWidth": 1}, "encoding": {"y": {"field": "q1", "type": "quantitative", "scale": {"domain": [0, 58.4], "nice": false, "zero": false}, "axis": {"title": "Th17 cells/μl", "values": [0, 10, 20, 30, 40, 50], "titlePadding": 6}}, "y2": {"field": "q3"}}},
      {"data": {"name": "boxes"}, "transform": [{"filter": "datum.p==='B3'"}], "mark": {"type": "tick", "size": 23, "thickness": 2, "color": "#1e1e1e"}, "encoding": {"y": {"field": "md", "type": "quantitative", "scale": {"domain": [0, 58.4], "nice": false, "zero": false}, "axis": {"title": "Th17 cells/μl", "values": [0, 10, 20, 30, 40, 50], "titlePadding": 6}}}},
      {"data": {"name": "boxes"}, "transform": [{"filter": "datum.p==='B3'"}], "mark": {"type": "text", "dy": -6, "fontSize": 8, "fontWeight": "bold", "color": "#2a2a2a"}, "encoding": {"y": {"field": "md", "type": "quantitative", "scale": {"domain": [0, 58.4], "nice": false, "zero": false}, "axis": {"title": "Th17 cells/μl", "values": [0, 10, 20, 30, 40, 50], "titlePadding": 6}}, "text": {"field": "lab"}}},
      {"data": {"name": "outl"}, "transform": [{"filter": "datum.p==='B3' && datum.k==='o'"}], "mark": {"type": "point", "shape": "circle", "filled": false, "size": 22, "color": "#8a8a8a", "strokeWidth": 1}, "encoding": {"y": {"field": "v", "type": "quantitative", "scale": {"domain": [0, 58.4], "nice": false, "zero": false}, "axis": {"title": "Th17 cells/μl", "values": [0, 10, 20, 30, 40, 50], "titlePadding": 6}}}},
      {"data": {"name": "outl"}, "transform": [{"filter": "datum.p==='B3' && datum.k==='x'"}], "mark": {"type": "point", "shape": "circle", "filled": true, "size": 5, "color": "#444444", "opacity": 1}, "encoding": {"y": {"field": "v", "type": "quantitative", "scale": {"domain": [0, 58.4], "nice": false, "zero": false}, "axis": {"title": "Th17 cells/μl", "values": [0, 10, 20, 30, 40, 50], "titlePadding": 6}}}},
      {"data": {"name": "ann"}, "transform": [{"filter": "datum.p==='B3'"}], "mark": {"type": "text", "fontSize": 9.5, "fontWeight": "bold", "color": "#333333", "baseline": "middle"}, "encoding": {"y": {"datum": 68.5, "scale": {"domain": [0, 58.4], "nice": false, "zero": false}, "axis": {"title": "Th17 cells/μl", "values": [0, 10, 20, 30, 40, 50], "titlePadding": 6}}, "text": {"field": "t"}}},
      {"data": {"name": "ann"}, "transform": [{"filter": "datum.p==='B3'"}], "mark": {"type": "tick", "size": 38, "thickness": 1, "color": "#333333"}, "encoding": {"y": {"datum": 66.6, "scale": {"domain": [0, 58.4], "nice": false, "zero": false}, "axis": {"title": "Th17 cells/μl", "values": [0, 10, 20, 30, 40, 50], "titlePadding": 6}}}},
      {"data": {"name": "ann"}, "transform": [{"filter": "datum.p==='B3'"}], "mark": {"type": "text", "text": "*", "fontSize": 22, "color": "#111111", "baseline": "middle", "dy": 0}, "encoding": {"y": {"datum": 61.5, "scale": {"domain": [0, 58.4], "nice": false, "zero": false}, "axis": {"title": "Th17 cells/μl", "values": [0, 10, 20, 30, 40, 50], "titlePadding": 6}}}}
     ]},
    {"width": 107, "height": 1, "data": {"values": [{}]}, "mark": {"type": "text", "text": "", "fontSize": 0}},
    {"width": 1, "height": 167, "view": {"stroke": "#a9a9a9", "strokeWidth": 1}, "data": {"values": [{}]}, "mark": {"type": "text", "text": "", "fontSize": 0}}
  ]},
  {"width": 1, "height": 167, "view": {"stroke": "#a9a9a9", "strokeWidth": 1}, "data": {"values": [{}]}, "mark": {"type": "text", "text": "", "fontSize": 0}},

  {"bounds": "flush", "spacing": 0, "hconcat": [
    {"width": 1345, "height": 1, "data": {"values": [{}]}, "mark": {"type": "text", "text": "", "fontSize": 0}},
    {"width": 1, "height": 34.5, "view": {"stroke": "#a9a9a9", "strokeWidth": 1}, "data": {"values": [{}]}, "mark": {"type": "text", "text": "", "fontSize": 0}}
  ]},
  {"width": 1, "height": 34.5, "view": {"stroke": "#a9a9a9", "strokeWidth": 1}, "data": {"values": [{}]}, "mark": {"type": "text", "text": "", "fontSize": 0}},

  {"bounds": "flush", "spacing": 0, "hconcat": [
    {"width": 137.5, "height": 119.5, "data": {"values": [{}]}, "mark": {"type": "text", "text": "", "fontSize": 0},
     "title": {"text": "FIGURE 3", "orient": "bottom", "anchor": "start", "frame": "group", "fontSize": 14.5, "fontWeight": "bold", "color": "#222222", "baseline": "alphabetic", "offset": 0, "dx": 14.5, "dy": -58.5}},
    {"width": 340, "height": 1, "view": {"stroke": "#ececec", "strokeWidth": 1}, "data": {"values": [{}]}, "mark": {"type": "text", "text": "", "fontSize": 0}},
    {"width": 50, "height": 119.5, "data": {"values": [{}]}, "mark": {"type": "text", "text": "", "fontSize": 0},
     "title": {"text": "| T-cell cytokine production in paired PB samples before and during ibrutinib treatment. The intra-individual variations of Th2, Th1 and Th17 activated", "orient": "bottom", "anchor": "start", "frame": "group", "fontSize": 18.4, "fontWeight": "normal", "color": "#222222", "baseline": "alphabetic", "offset": 0, "dx": -392, "dy": -58.5}},
    {"width": 338, "height": 1, "view": {"stroke": "#ececec", "strokeWidth": 1}, "data": {"values": [{}]}, "mark": {"type": "text", "text": "", "fontSize": 0}},
    {"width": 37, "height": 119.5, "data": {"values": [{}]}, "mark": {"type": "text", "text": "", "fontSize": 0},
     "title": {"text": "cells are expressed as: (A) percentages of Th2, Th1 and Th17 cells; (B) absolute numbers of Th2, Th1 and Th17 cells. Samples at D0, n=71; at D14, n=50; at M8,", "orient": "bottom", "anchor": "start", "frame": "group", "fontSize": 18.1, "fontWeight": "normal", "color": "#222222", "baseline": "alphabetic", "offset": 0, "dx": -851, "dy": -37}},
    {"width": 344, "height": 1, "view": {"stroke": "#ececec", "strokeWidth": 1}, "data": {"values": [{}]}, "mark": {"type": "text", "text": "", "fontSize": 0}},
    {"width": 98.5, "height": 119.5, "data": {"values": [{}]}, "mark": {"type": "text", "text": "", "fontSize": 0},
     "title": {"text": "n=30; at M12, n=25; at M18, n=22; at M24, n=10 (Wilcoxon paired test D14 vs D0, M8 vs D0, M12 vs D0, M18 vs D0, M24 vs D0; *p<0.05).", "orient": "bottom", "anchor": "start", "frame": "group", "fontSize": 18.3, "fontWeight": "normal", "color": "#222222", "baseline": "alphabetic", "offset": 0, "dx": -1232, "dy": -15}},
    {"width": 1, "height": 119.5, "view": {"stroke": "#a9a9a9", "strokeWidth": 1}, "data": {"values": [{}]}, "mark": {"type": "text", "text": "", "fontSize": 0}}
  ]},
  {"width": 1, "height": 119.5, "view": {"stroke": "#a9a9a9", "strokeWidth": 1}, "data": {"values": [{}]}, "mark": {"type": "text", "text": "", "fontSize": 0}}
]
}
